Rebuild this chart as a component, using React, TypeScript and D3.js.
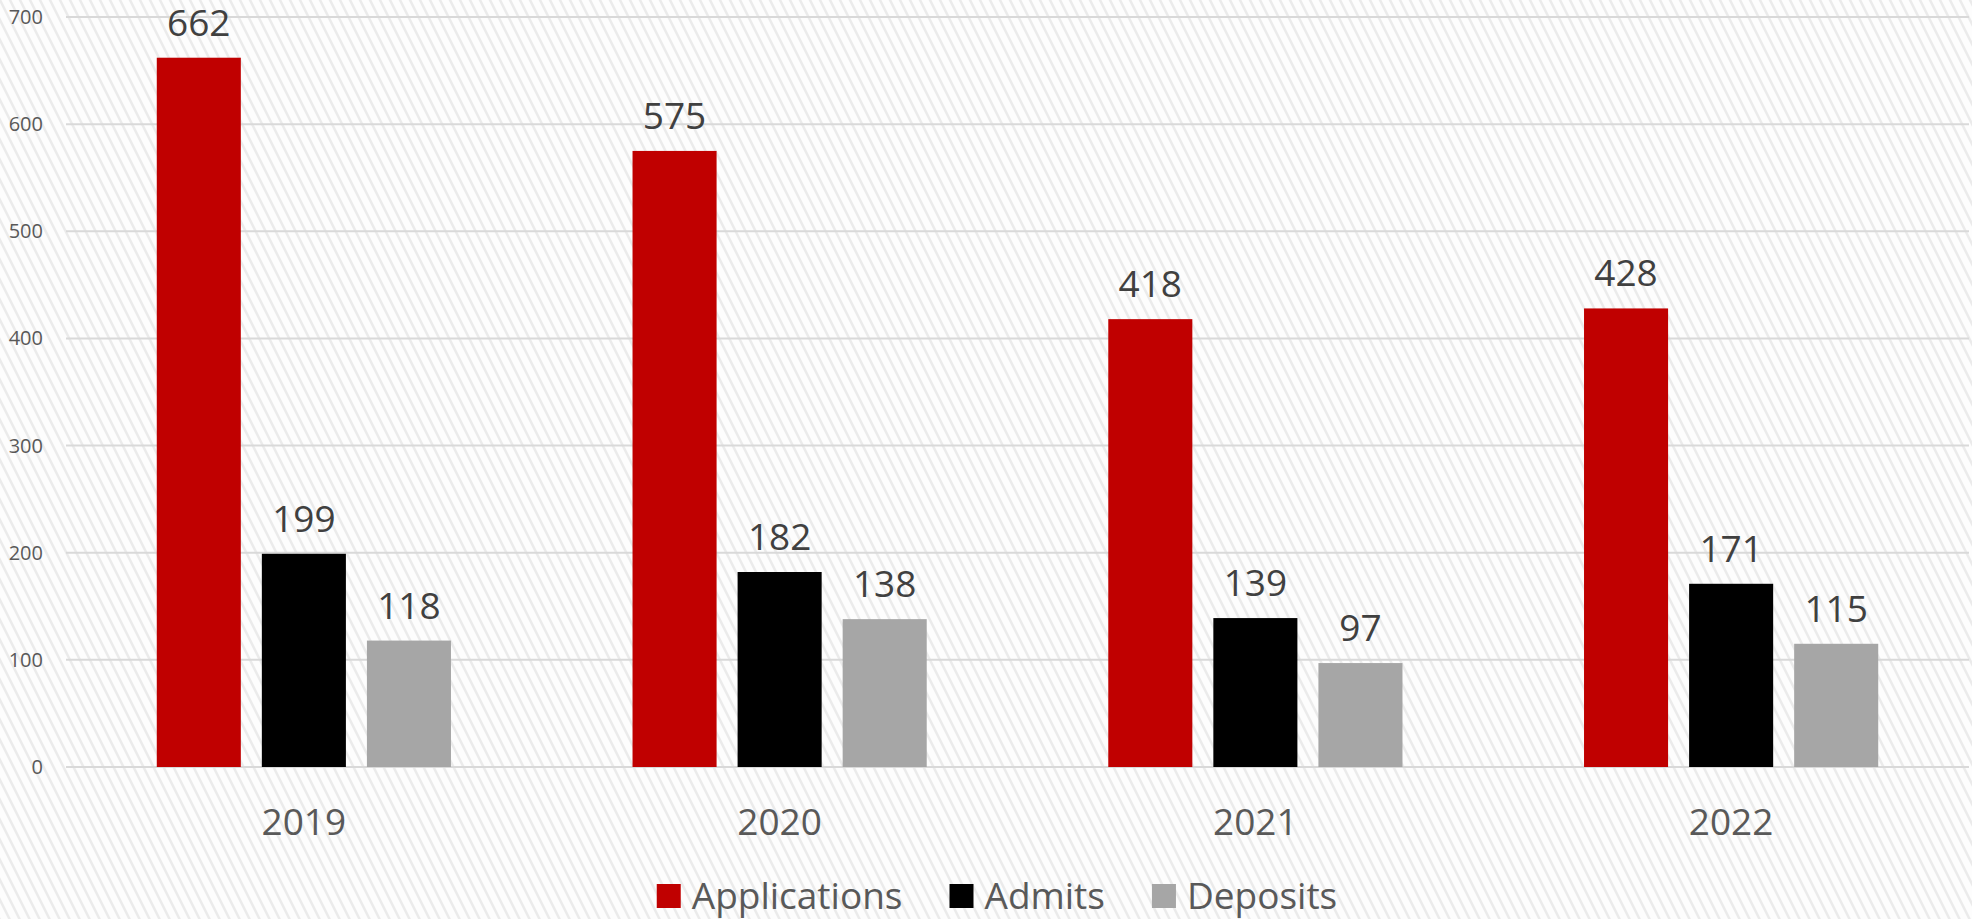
import React from "react";
import * as d3 from "d3";

const years = ["2019", "2020", "2021", "2022"];
const seriesNames = ["Applications", "Admits", "Deposits"];
const applications = [662, 575, 418, 428];
const admits = [199, 182, 139, 171];
const deposits = [118, 138, 97, 115];
const yTicks = [0, 100, 200, 300, 400, 500, 600, 700];
const seriesColors = ["#c00000", "#000000", "#a6a6a6"];

const W = 1972;
const H = 919;
const FONT = "'Open Sans', 'Noto Sans', sans-serif";

// rough text width measure for legend layout
const measure = (text: string, size: number) => {
  const ctx = document.createElement("canvas").getContext("2d");
  if (!ctx) return text.length * size * 0.55;
  ctx.font = `${size}px 'Open Sans'`;
  return ctx.measureText(text).width;
};

export default function App() {
  const plot = { left: 66, right: 1969, top: 17, bottom: 767 };
  const values = [applications, admits, deposits];

  const x = d3.scaleBand<string>().domain(years).range([plot.left, plot.right]).padding(0);
  const y = d3.scaleLinear().domain([0, 700]).range([plot.bottom, plot.top]);

  // excel-ish: gap width 216%, overlap -25%
  const bw = x.bandwidth();
  const barW = bw / (3 + 2 * 0.25 + 2.16);
  const groupW = 3 * barW + 2 * 0.25 * barW;
  const inner = d3
    .scaleBand<string>()
    .domain(seriesNames)
    .range([(bw - groupW) / 2, (bw + groupW) / 2])
    .paddingInner(0.2)
    .paddingOuter(0);

  // legend
  const legendSize = 37;
  const sw = 24;
  const swGap = 11;
  const itemGap = 47;
  const widths = seriesNames.map((s) => measure(s, legendSize));
  const totalW =
    widths.reduce((a, b) => a + b, 0) + seriesNames.length * (sw + swGap) + itemGap * (seriesNames.length - 1);
  let lx = 997 - totalW / 2;
  const legendItems = seriesNames.map((s, i) => {
    const item = { name: s, x: lx, color: seriesColors[i] };
    lx += sw + swGap + widths[i] + itemGap;
    return item;
  });

  return (
    <svg
      width={W}
      height={H}
      style={{ position: "absolute", left: 0, top: 0, display: "block" }}
      fontFamily={FONT}
    >
      <defs>
        <pattern id="hatch" patternUnits="userSpaceOnUse" width={10} height={20}>
          <rect width={10} height={20} fill="#fdfdfd" />
          <path d="M-1,-2 L11,22 M-11,-2 L1,22 M9,-2 L21,22" stroke="#ebebeb" strokeWidth={2.5} />
        </pattern>
      </defs>
      <rect width={W} height={H} fill="url(#hatch)" />

      {/* gridlines + y labels */}
      {yTicks.map((t) => (
        <g key={t}>
          <line x1={plot.left} x2={plot.right} y1={y(t)} y2={y(t)} stroke="#d9d9d9" strokeWidth={2} />
          <text x={43} y={y(t)} dy="0.35em" textAnchor="end" fontSize={20} fill="#595959">
            {t}
          </text>
        </g>
      ))}

      {/* bars */}
      {years.map((yr, ci) => (
        <g key={yr} transform={`translate(${x(yr)},0)`}>
          {seriesNames.map((s, si) => {
            const v = values[si][ci];
            const bx = inner(s) as number;
            return (
              <g key={s}>
                <rect
                  x={bx}
                  y={y(v)}
                  width={inner.bandwidth()}
                  height={y(0) - y(v)}
                  fill={seriesColors[si]}
                />
                <text
                  x={bx + inner.bandwidth() / 2}
                  y={y(v) - 22}
                  textAnchor="middle"
                  fontSize={37}
                  fill="#404040"
                >
                  {v}
                </text>
              </g>
            );
          })}
          <text x={bw / 2} y={835} textAnchor="middle" fontSize={37} fill="#595959">
            {yr}
          </text>
        </g>
      ))}

      {/* legend */}
      {legendItems.map((it) => (
        <g key={it.name}>
          <rect x={it.x} y={884} width={sw} height={sw} fill={it.color} />
          <text x={it.x + sw + swGap} y={909} fontSize={legendSize} fill="#595959">
            {it.name}
          </text>
        </g>
      ))}
    </svg>
  );
}
